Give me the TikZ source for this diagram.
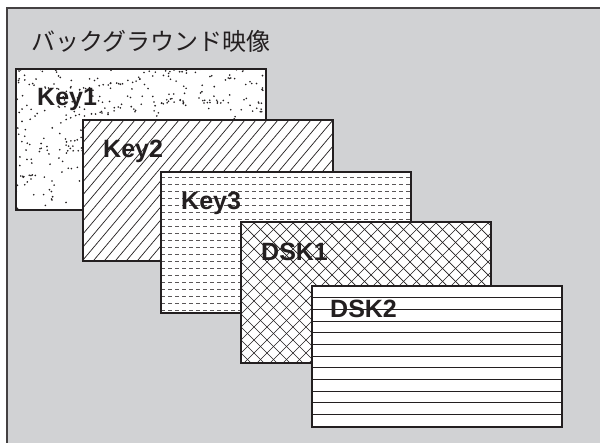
\documentclass[tikz,border=0pt]{standalone}
\usepackage{fontspec}
\setmainfont{Liberation Sans}
\newfontfamily\jpfont{Noto Sans CJK JP}
\usetikzlibrary{positioning}
\definecolor{ink}{HTML}{231F20}
\definecolor{panelgray}{HTML}{D1D2D4}

\begin{document}
\begin{tikzpicture}[x=1pt, y=-1pt,
  layer/.style={draw=ink, line width=1.3pt, fill=white, anchor=north west,
                minimum width=249pt, minimum height=140pt, inner sep=0pt},
  tag/.style={anchor=base west, inner sep=0pt, text=ink,
              font=\fontsize{25}{30}\selectfont\bfseries},
  hatch/.style={ink, line width=0.7pt},
  rim/.style={draw=ink, line width=1.3pt}]
\clip (0,0) rectangle (600,443);
\fill[white] (0,0) rectangle (600,443);
\draw[ink!85, line width=1.5pt, fill=panelgray] (7,8) rectangle (620,460);
\node[anchor=base west, inner sep=0pt, text=ink, font=\jpfont\fontsize{24}{28}\selectfont]
  (title) at (31,51) {バックグラウンド映像};

% Key1: stipple
\node[layer] (key1) at (16,69) {};
\begin{scope}[shift={(key1.north west)}]
  \clip (0,0) rectangle (249,140);
  \pgfmathsetseed{11}
  \foreach \k in {1,...,340}{
    \pgfmathsetmacro\px{249*rnd}
    \pgfmathsetmacro\py{140*rnd}
    \fill[ink] (\px,\py) circle (0.9);
  }
  \foreach \b in {12,40,72,104}{
    \foreach \k in {1,...,40}{
      \pgfmathsetmacro\px{249*rnd}
      \pgfmathsetmacro\py{\b+8*sin(1.6*\px)+3*rand}
      \fill[ink] (\px,\py) circle (0.9);
    }
  }
\end{scope}
\draw[rim] (key1.north west) rectangle (key1.south east);
\node[tag] (key1tag) at ([shift={(21,37)}]key1.north west) {Key1};

% Key2: diagonal lines
\node[layer] (key2) at (83,120) {};
\begin{scope}[shift={(key2.north west)}]
  \clip (0,0) rectangle (249,140);
  \foreach \x in {-121,-110,...,260}
    \draw[hatch] (\x,140) -- ++(118,-140);
\end{scope}
\draw[rim] (key2.north west) rectangle (key2.south east);
\node[tag] (key2tag) at ([shift={(20,38)}]key2.north west) {Key2};

% Key3: dashed lines
\node[layer] (key3) at (161,172) {};
\begin{scope}[shift={(key3.north west)}]
  \clip (0,0) rectangle (249,140);
  \foreach \y in {5,12,...,138}
    \draw[hatch, ink!75, dash pattern=on 4pt off 3pt] (0,\y) -- (249,\y);
\end{scope}
\draw[rim] (key3.north west) rectangle (key3.south east);
\node[tag] (key3tag) at ([shift={(20,38)}]key3.north west) {Key3};

% DSK1: cross hatch
\node[layer] (dsk1) at (241,222) {};
\begin{scope}[shift={(dsk1.north west)}]
  \clip (0,0) rectangle (249,140);
  \foreach \x in {-144,-131,...,252}{
    \draw[hatch] (\x,0) -- ++(145,145);
    \draw[hatch] (\x,145) -- ++(145,-145);
  }
\end{scope}
\draw[rim] (dsk1.north west) rectangle (dsk1.south east);
\node[tag] (dsk1tag) at ([shift={(20,39)}]dsk1.north west) {DSK1};

% DSK2: horizontal lines
\node[layer] (dsk2) at (312,286) {};
\begin{scope}[shift={(dsk2.north west)}]
  \foreach \k in {1,...,11}
    \draw[hatch, line width=1pt] (0,11.67*\k) -- (249,11.67*\k);
\end{scope}
\draw[rim] (dsk2.north west) rectangle (dsk2.south east);
\node[tag] (dsk2tag) at ([shift={(18,32)}]dsk2.north west) {DSK2};
\end{tikzpicture}
\end{document}
